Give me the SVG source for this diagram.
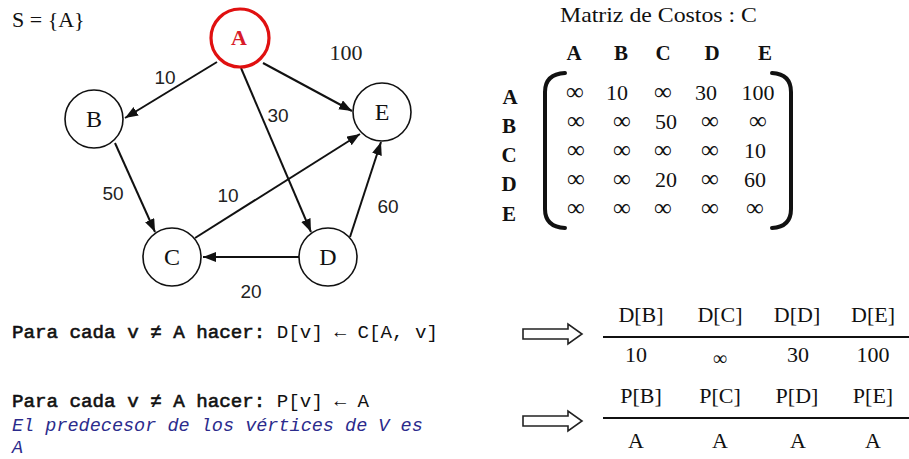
<svg xmlns="http://www.w3.org/2000/svg" width="909" height="459" viewBox="0 0 909 459">
<style>
.serif{font-family:"Liberation Serif","Times New Roman",serif;fill:#111}
.mono{font-family:"Liberation Mono","Courier New",monospace;fill:#111}
.strong{stroke:#111;stroke-width:0.6}
.node circle{fill:#fff;stroke:#111;stroke-width:1.6}
.node text{font-family:"Liberation Serif","Times New Roman",serif;font-size:24px;text-anchor:middle;fill:#111}
.edge{stroke:#111;stroke-width:2;fill:none;marker-end:url(#ah)}
.elbl{font-family:"Liberation Sans",Arial,sans-serif;font-size:19px;text-anchor:middle;fill:#222}
.mx{font-family:"Liberation Serif","Times New Roman",serif;font-size:22px;text-anchor:middle;fill:#111}
.inf{font-size:25px}
.hdr{font-weight:bold;font-size:21px}
.tbl{font-family:"Liberation Serif","Times New Roman",serif;font-size:22px;text-anchor:middle;fill:#111}
.bracket{fill:none;stroke:#111;stroke-width:4;stroke-linecap:round}
.hollow{fill:#fff;stroke:#222;stroke-width:1.6;stroke-linejoin:miter}
.note{font-family:"Liberation Mono","Courier New",monospace;font-size:18.5px;font-style:italic;fill:#2b2b8c}
</style>
<defs>
<marker id="ah" markerUnits="userSpaceOnUse" markerWidth="14" markerHeight="12" refX="13" refY="5" orient="auto">
<path d="M0,0 L13,5 L0,10 Z" fill="#111"/>
</marker>
</defs>
<text class="serif" x="12" y="27" font-size="22">S = {A}</text>
<g id="connectors">
<line class="edge" x1="217" y1="62" x2="125" y2="118"/>
<line class="edge" x1="263" y1="63" x2="352" y2="111"/>
<line class="edge" x1="241" y1="68" x2="311" y2="232"/>
<line class="edge" x1="115" y1="143" x2="155" y2="232"/>
<line class="edge" x1="195" y1="238" x2="360" y2="134"/>
<line class="edge" x1="350" y1="237" x2="381" y2="142"/>
<line class="edge" x1="299" y1="257" x2="203" y2="257"/>
<text class="elbl" x="165" y="84">10</text>
<text class="elbl" x="346" y="60" style="font-family:'Liberation Serif',serif;font-size:22px">100</text>
<text class="elbl" x="278" y="122">30</text>
<text class="elbl" x="113" y="200">50</text>
<text class="elbl" x="228" y="202">10</text>
<text class="elbl" x="388" y="213">60</text>
<text class="elbl" x="251" y="298">20</text>
</g>
<g id="A" class="node"><circle cx="240" cy="38" r="29" style="stroke:#e01010;stroke-width:3.2"/><text x="239" y="45" style="fill:#d81b2a;font-weight:bold;font-size:22px">A</text></g>
<g id="B" class="node"><circle cx="94" cy="119" r="29"/><text x="94" y="127">B</text></g>
<g id="E" class="node"><circle cx="382" cy="112" r="29"/><text x="382" y="120">E</text></g>
<g id="C" class="node"><circle cx="172" cy="257" r="29"/><text x="172" y="265">C</text></g>
<g id="D" class="node"><circle cx="328" cy="257" r="29"/><text x="328" y="265">D</text></g>
<g id="matrix">
<text class="serif" x="560" y="22" font-size="21" textLength="197" lengthAdjust="spacingAndGlyphs">Matriz de Costos : C</text>
<g class="mx hdr">
<text x="574" y="60">A</text><text x="621" y="60">B</text><text x="663" y="60">C</text><text x="712" y="60">D</text><text x="765" y="60">E</text>
<text x="510" y="104">A</text><text x="509" y="133">B</text><text x="509" y="162">C</text><text x="509" y="191">D</text><text x="509" y="221">E</text>
</g>
<g class="mx">
<text x="575" y="100" class="inf">∞</text><text x="617" y="100">10</text><text x="663" y="100" class="inf">∞</text><text x="706" y="100">30</text><text x="758" y="100">100</text>
<text x="576" y="129" class="inf">∞</text><text x="622" y="129" class="inf">∞</text><text x="666" y="129">50</text><text x="710" y="129" class="inf">∞</text><text x="758" y="129" class="inf">∞</text>
<text x="576" y="158" class="inf">∞</text><text x="622" y="158" class="inf">∞</text><text x="663" y="158" class="inf">∞</text><text x="710" y="158" class="inf">∞</text><text x="755" y="158">10</text>
<text x="576" y="187" class="inf">∞</text><text x="622" y="187" class="inf">∞</text><text x="666" y="187">20</text><text x="710" y="187" class="inf">∞</text><text x="755" y="187">60</text>
<text x="576" y="216" class="inf">∞</text><text x="622" y="216" class="inf">∞</text><text x="663" y="216" class="inf">∞</text><text x="710" y="216" class="inf">∞</text><text x="755" y="216" class="inf">∞</text>
</g>
<path class="bracket" d="M565,73 Q545,74 545,92 L545,209 Q545,227 565,228"/>
<path class="bracket" d="M772,73 Q791,74 791,92 L791,209 Q791,227 772,228"/>
</g>
<g id="code">
<text class="mono" x="12" y="338" font-size="19.2"><tspan class="strong">Para cada v ≠ A hacer:</tspan> D[v] ← C[A, v]</text>
<text class="mono" x="12" y="407" font-size="19.2"><tspan class="strong">Para cada v ≠ A hacer:</tspan> P[v] ← A</text>
<text class="note" x="12" y="431">El predecesor de los vértices de V es</text>
<text class="note" x="12" y="453">A</text>
</g>
<path class="hollow" d="M523,329 L568,329 L568,324 L582,334 L568,344 L568,339 L523,339 Z"/>
<path class="hollow" d="M523,416 L568,416 L568,411 L582,421 L568,431 L568,426 L523,426 Z"/>
<g id="tableD" class="tbl">
<text x="641" y="322">D[B]</text><text x="720" y="322">D[C]</text><text x="797" y="322">D[D]</text><text x="873" y="322">D[E]</text>
<line x1="603" y1="337" x2="909" y2="337" stroke="#111" stroke-width="2"/>
<text x="636" y="362">10</text><text x="720" y="365" font-size="20">∞</text><text x="798" y="362">30</text><text x="873" y="362">100</text>
</g>
<g id="tableP" class="tbl">
<text x="641" y="403">P[B]</text><text x="720" y="403">P[C]</text><text x="797" y="403">P[D]</text><text x="873" y="403">P[E]</text>
<line x1="603" y1="418" x2="909" y2="418" stroke="#111" stroke-width="2"/>
<text x="636" y="448">A</text><text x="720" y="448">A</text><text x="798" y="448">A</text><text x="873" y="448">A</text>
</g>
</svg>
